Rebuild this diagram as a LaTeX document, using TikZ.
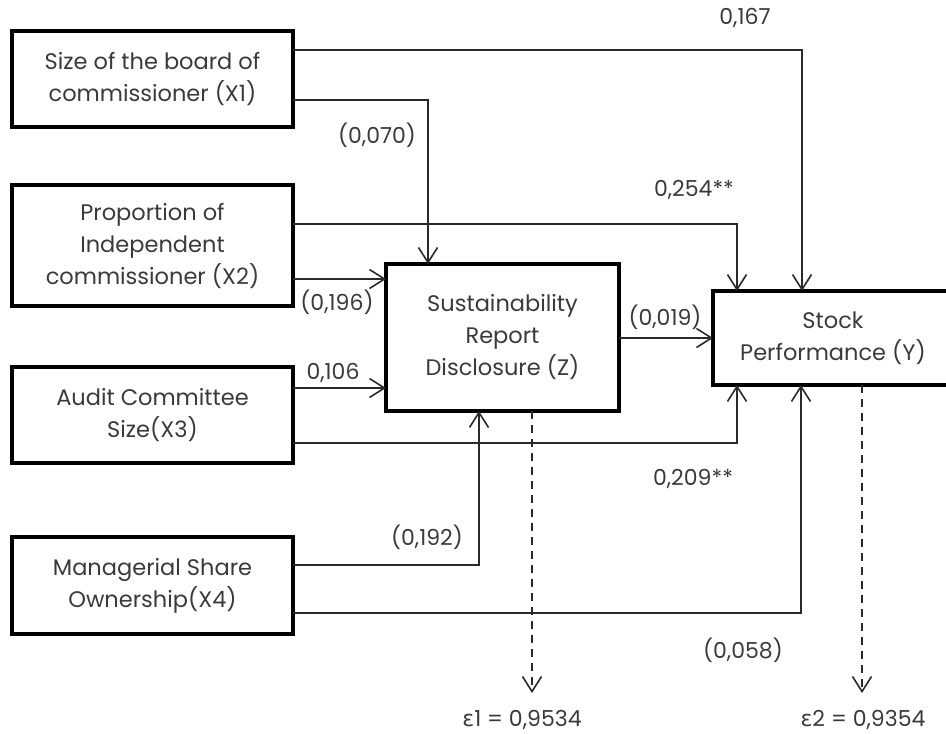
\documentclass[tikz,border=0pt]{standalone}
\usepackage{fontspec}
\setmainfont{Poppins}
\newfontfamily\grkfont{DejaVu Sans}
\usetikzlibrary{arrows.meta}
\definecolor{txt}{HTML}{3A3A3A}
\definecolor{ln}{HTML}{2A2A2A}
\begin{document}
\begin{tikzpicture}[x=1pt,y=-1pt,
  box/.style={draw=black,line width=4pt,inner sep=0pt,outer sep=0pt,align=center,text=txt,
    font=\fontsize{22.5}{32}\selectfont},
  conn/.style={draw=ln,line width=1.6pt,-{Straight Barb[length=15pt,width=19pt,line width=1.6pt]}},
  dconn/.style={conn,dash pattern=on 8pt off 6pt},
  lab/.style={text=txt,font=\fontsize{22}{26}\selectfont,inner sep=0pt}]
\useasboundingbox (0,0) rectangle (946,734);
\begin{scope}
\clip (0,0) rectangle (946,734);
% boxes
\node[box,minimum width=281pt,minimum height=96pt] (X1) at (152.5,79) {Size of the board of\\commissioner (X1)};
\node[box,minimum width=281pt,minimum height=121pt] (X2) at (152.5,245.5) {Proportion of\\Independent\\commissioner (X2)};
\node[box,minimum width=281pt,minimum height=96pt] (X3) at (152.5,415) {Audit Committee\\Size(X3)};
\node[box,minimum width=281pt,minimum height=97pt] (X4) at (152.5,585.5) {Managerial Share\\Ownership(X4)};
\node[box,minimum width=233pt,minimum height=147pt] (Z) at (502.5,337.5) {Sustainability\\Report\\Disclosure (Z)};
\node[box,minimum width=240pt,minimum height=94pt] (Y) at (833,338) {Stock\\Performance (Y)};
\end{scope}
% helper coordinates
\coordinate (a1) at (802,50);
\coordinate (a2) at (428,100);
\coordinate (a3) at (737,224);
\coordinate (a4) at (0,279);
\coordinate (a5) at (0,388);
\coordinate (a6) at (737,443);
\coordinate (a7) at (479,565);
\coordinate (a8) at (801,613);
\coordinate (a9) at (0,338);
\coordinate (e1) at (532,693);
\coordinate (e2) at (862,693);
% connectors
\draw[conn] (X1.east |- a1) -| (a1 |- Y.north);
\draw[conn] (X1.east |- a2) -| (a2 |- Z.north);
\draw[conn] (X2.east |- a3) -| (a3 |- Y.north);
\draw[conn] (X2.east |- a4) -- (Z.west |- a4);
\draw[conn] (X3.east |- a5) -- (Z.west |- a5);
\draw[conn] (X3.east |- a6) -| (a6 |- Y.south);
\draw[conn] (X4.east |- a7) -| (a7 |- Z.south);
\draw[conn] (X4.east |- a8) -| (a8 |- Y.south);
\draw[conn] (Z.east |- a9) -- (Y.west |- a9);
\draw[dconn] (e1 |- Z.south) -- (e1);
\draw[dconn] (e2 |- Y.south) -- (e2);
% labels
\node[lab] (l1) at (745,18) {0,167};
\node[lab] (l2) at (377,135) {(0,070)};
\node[lab] (l3) at (694,190) {0,254**};
\node[lab] (l4) at (337,302) {(0,196)};
\node[lab] (l5) at (333,373) {0,106};
\node[lab] (l6) at (665,317) {(0,019)};
\node[lab] (l7) at (693,479) {0,209**};
\node[lab] (l8) at (427,537) {(0,192)};
\node[lab] (l9) at (743,650) {(0,058)};
\node[lab] (t1) at (522,720) {{\grkfont ε}1 = 0,9534};
\node[lab] (t2) at (863,720) {{\grkfont ε}2 = 0,9354};
\end{tikzpicture}
\end{document}
